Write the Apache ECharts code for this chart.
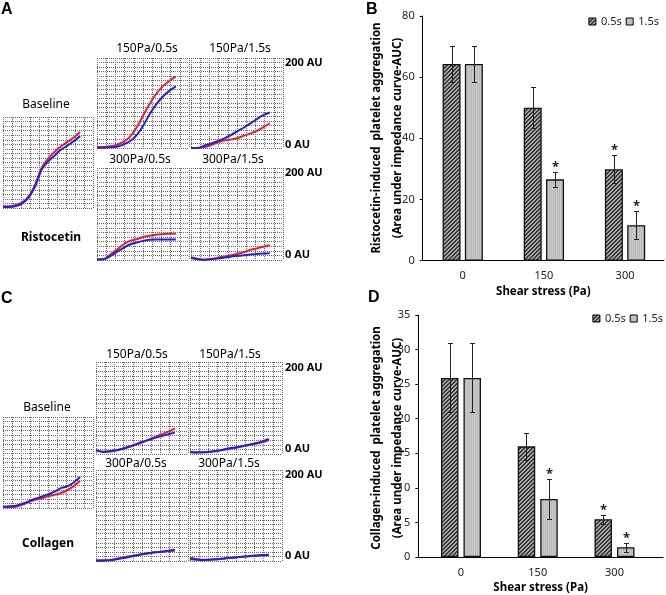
<!DOCTYPE html>
<html><head><meta charset="utf-8">
<script src="https://cdn.jsdelivr.net/npm/echarts@6/dist/echarts.min.js"></script>
<style>html,body{margin:0;padding:0;background:#fff}#c{width:666px;height:595px}</style>
</head><body><div id="c"></div>
<script>
// ---------- DATA ----------
// impedance curve sample times (s)
var timeSec = [0, 30, 60, 90, 120, 150, 180, 210, 240, 270, 300, 330, 360];
// Ristocetin (AU)
var ristoBaseRed   = [3.6, 3.6, 6.6, 12.4, 25.5, 51, 88, 108, 123, 135, 145, 155, 167];
var ristoBaseBlue  = [2.2, 2.2, 4.4, 10.2, 23.4, 47.5, 84, 102, 115, 128, 137, 147, 158];
var risto150s05Red  = [2.2, 2.2, 3.7, 6.7, 13.4, 24.6, 44.8, 71.6, 97.7, 120, 137, 149, 159];
var risto150s05Blue = [0.7, 0.7, 1.5, 3, 7.5, 15, 28, 49, 75, 97, 114, 127, 137];
var risto150s15Red  = [0, 0, 1.5, 6, 12, 16.4, 18.6, 21.6, 27, 32, 38, 46, 55];
var risto150s15Blue = [0, 0, 5, 9.7, 15, 21, 28, 37, 45, 54, 64, 73, 79];
var risto300s05Red  = [1.5, 1.5, 11.7, 22, 33.6, 41.6, 45, 50, 52.6, 54.8, 56, 57, 57];
var risto300s05Blue = [0.7, 1.5, 8, 17.5, 26, 33.6, 38, 41.6, 43.8, 44.5, 44.5, 44.5, 44.5];
var risto300s15Red  = [5.8, 2.2, 0.7, 2.2, 4.4, 7.3, 10.2, 13, 16.8, 22, 25, 29, 32];
var risto300s15Blue = [4.4, 2.2, 0.7, 1.5, 3, 5, 7.3, 8.8, 10.2, 11.7, 13, 13.9, 14.6];
// Collagen (AU)
var collBaseRed   = [1.5, 1.5, 2.9, 7.3, 13, 18, 21, 25.5, 29, 33, 39, 48, 60];
var collBaseBlue  = [2.9, 3.6, 5.1, 9.5, 14.6, 20.4, 24.8, 30, 35.8, 43.8, 47.4, 56, 68];
var coll150s05Red  = [9.4, 4.4, 5, 7.3, 11, 15, 20, 25, 31, 37, 43, 48.6, 55];
var coll150s05Blue = [7.3, 5, 5.8, 8, 11.6, 16, 21, 26, 30.5, 35, 39, 43, 47];
var coll150s15Red  = [3.6, 2.9, 3.6, 5, 6.5, 8.7, 11.6, 13.8, 16.7, 19.6, 22.5, 25.4, 29.7];
var coll150s15Blue = [4.4, 3.6, 3.6, 4.4, 6.5, 9.4, 12.3, 14.5, 17.4, 20.3, 23.2, 27.5, 33];
var coll300s05Red  = [1.5, 1.5, 2.2, 4.4, 7.3, 10.3, 12.5, 14.7, 16.9, 19, 20.5, 22, 22.7];
var coll300s05Blue = [0.7, 0.7, 1.5, 3.7, 5.9, 8.8, 11.7, 14.7, 16.9, 19, 20.5, 22.7, 25];
var coll300s15Red  = [8, 4.4, 2.9, 2.9, 3.7, 5.1, 6.6, 8, 9.5, 10.3, 11.7, 12.5, 13.2];
var coll300s15Blue = [4.4, 2.9, 2.2, 2.9, 3.7, 5.1, 6.6, 8, 9.5, 11, 11.7, 13.2, 14];

// Bar charts
var shearCategories = ['0', '150', '300'];
var seriesNames = ['0.5s', '1.5s'];
var ristoMean05 = [64.3, 50.0, 29.9];
var ristoMean15 = [64.3, 26.6, 11.6];
var ristoErr05  = [5.8, 6.7, 4.6];
var ristoErr15  = [5.9, 2.4, 4.5];
var ristoSig05  = [0, 0, 1];
var ristoSig15  = [0, 1, 1];
var collMean05 = [25.9, 16.0, 5.45];
var collMean15 = [25.9, 8.4, 1.42];
var collErr05  = [5.0, 1.95, 0.65];
var collErr15  = [5.0, 2.9, 0.65];
var collSig05  = [0, 0, 1];
var collSig15  = [0, 1, 1];

// ---------- STYLE / LAYOUT ----------
var FONT = '"Noto Sans", "Open Sans", sans-serif';
function hatchPattern() {
  var c = document.createElement('canvas'); c.width = 4; c.height = 4;
  var g = c.getContext('2d');
  g.fillStyle = '#a4a4a4'; g.fillRect(0, 0, 4, 4);
  g.fillStyle = '#3a3a3a';
  for (var i = 0; i < 4; i++) { g.fillRect(i, 3 - i, 1, 1); g.fillRect(i, (4 - i) % 4, 1, 1); }
  return c;
}
function lightPattern() {
  var c = document.createElement('canvas'); c.width = 2; c.height = 2;
  var g = c.getContext('2d');
  g.fillStyle = '#c9c9c9'; g.fillRect(0, 0, 2, 2);
  g.fillStyle = '#b9b9b9'; g.fillRect(1, 0, 1, 2);
  return c;
}
var fill05 = { image: hatchPattern(), repeat: 'repeat' };
var fill15 = { image: lightPattern(), repeat: 'repeat' };

var RED = '#ee1c25', BLUE = '#1f1fea';
var boxes = [
  { x: 3,   y: 117, w: 90, h: 91, red: ristoBaseRed,   blue: ristoBaseBlue },
  { x: 97,  y: 58,  w: 92, h: 90, red: risto150s05Red,  blue: risto150s05Blue },
  { x: 191, y: 58,  w: 92, h: 90, red: risto150s15Red,  blue: risto150s15Blue },
  { x: 97,  y: 168, w: 92, h: 92, red: risto300s05Red,  blue: risto300s05Blue },
  { x: 191, y: 168, w: 92, h: 92, red: risto300s15Red,  blue: risto300s15Blue },
  { x: 3,   y: 417, w: 90, h: 91, red: collBaseRed,    blue: collBaseBlue },
  { x: 96,  y: 362, w: 92, h: 92, red: coll150s05Red,   blue: coll150s05Blue },
  { x: 190, y: 362, w: 92, h: 92, red: coll150s15Red,   blue: coll150s15Blue },
  { x: 96,  y: 470, w: 92, h: 91, red: coll300s05Red,   blue: coll300s05Blue },
  { x: 190, y: 470, w: 92, h: 91, red: coll300s15Red,   blue: coll300s15Blue }
];

var grids = [], xAxes = [], yAxes = [], series = [];
var dotted = { color: '#666666', type: 'dotted', width: 1 };
boxes.forEach(function (b, i) {
  grids.push({ left: b.x, top: b.y, width: b.w, height: b.h });
  xAxes.push({ gridIndex: i, type: 'value', min: 0, max: 420, interval: 42,
    axisLine: { show: false }, axisTick: { show: false }, axisLabel: { show: false },
    splitLine: { show: true, lineStyle: dotted } });
  yAxes.push({ gridIndex: i, type: 'value', min: 0, max: 200, interval: 10,
    axisLine: { show: false }, axisTick: { show: false }, axisLabel: { show: false },
    splitLine: { show: true, lineStyle: dotted } });
  [[b.red, RED], [b.blue, BLUE]].forEach(function (p) {
    series.push({ type: 'line', xAxisIndex: i, yAxisIndex: i, showSymbol: false, smooth: 0.3,
      silent: true, lineStyle: { color: p[1], width: 2 }, itemStyle: { color: p[1] },
      data: timeSec.map(function (t, k) { return [t, p[0][k]]; }) });
  });
});

// Bar charts
var barCfg = [
  { grid: { left: 422.7, top: 16, width: 241.3, height: 244.7 }, xmin: -0.493, xmax: 2.48,
    ymax: 80, yint: 20, bw: 18, gap: 4.3,
    m05: ristoMean05, m15: ristoMean15, e05: ristoErr05, e15: ristoErr15, s05: ristoSig05, s15: ristoSig15 },
  { grid: { left: 418.3, top: 315, width: 244.7, height: 246.7 }, xmin: -0.556, xmax: 2.632,
    ymax: 35, yint: 5, bw: 17.5, gap: 5,
    m05: collMean05, m15: collMean15, e05: collErr05, e15: collErr15, s05: collSig05, s15: collSig15 }
];
barCfg.forEach(function (c, j) {
  var gi = boxes.length + j;
  grids.push(c.grid);
  xAxes.push({ gridIndex: gi, type: 'value', min: c.xmin, max: c.xmax,
    axisLine: { show: true, onZero: false, lineStyle: { color: '#000', width: 1 } },
    axisTick: { show: false }, splitLine: { show: false },
    axisLabel: { customValues: [0, 1, 2], formatter: function (v) { return shearCategories[Math.round(v)]; },
      margin: 10, fontSize: 11, color: '#222', fontFamily: FONT },
    name: 'Shear stress (Pa)', nameLocation: 'middle', nameGap: 25,
    nameTextStyle: { fontWeight: 'bold', fontSize: 11.5, color: '#000', fontFamily: FONT } });
  yAxes.push({ gridIndex: gi, type: 'value', min: 0, max: c.ymax, interval: c.yint,
    axisLine: { show: true, onZero: false, lineStyle: { color: '#000', width: 1 } },
    axisTick: { show: true, length: 3, lineStyle: { color: '#000' } },
    splitLine: { show: false },
    axisLabel: { fontSize: 11, color: '#222', margin: 8, fontFamily: FONT } });
  var gapPct = (c.gap / c.bw * 100).toFixed(1) + '%';
  [[c.m05, fill05, '0.5s'], [c.m15, fill15, '1.5s']].forEach(function (p) {
    series.push({ type: 'bar', name: p[2], xAxisIndex: gi, yAxisIndex: gi, barWidth: c.bw, barGap: gapPct,
      itemStyle: { color: p[1], borderColor: '#111', borderWidth: 1.3 },
      data: p[0].map(function (v, k) { return [k, v]; }) });
  });
  var off = (c.bw + c.gap) / 2;
  [[c.m05, c.e05, c.s05, -off], [c.m15, c.e15, c.s15, off]].forEach(function (p) {
    series.push({ type: 'custom', xAxisIndex: gi, yAxisIndex: gi, z: 5, silent: true,
      encode: { x: 0, y: 1 },
      data: p[0].map(function (v, k) { return [k, v, p[1][k], p[2][k]]; }),
      renderItem: function (params, api) {
        var i = api.value(0), m = api.value(1), e = api.value(2), s = api.value(3);
        var x = Math.round(api.coord([i, m])[0] + p[3]) + 0.5;
        var top = Math.round(api.coord([i, m + e])[1]) + 0.5;
        var bot = Math.round(api.coord([i, m - e])[1]) + 0.5;
        var st = { stroke: '#222', lineWidth: 1 };
        var ch = [
          { type: 'line', shape: { x1: x, y1: top, x2: x, y2: bot }, style: st },
          { type: 'line', shape: { x1: x - 2.5, y1: top, x2: x + 2.5, y2: top }, style: st },
          { type: 'line', shape: { x1: x - 2.5, y1: bot, x2: x + 2.5, y2: bot }, style: st }
        ];
        if (s) ch.push({ type: 'text', x: x, y: top - 5,
          style: { text: '*', fill: '#222', font: 'bold 13px ' + FONT, align: 'center', verticalAlign: 'middle' } });
        return { type: 'group', children: ch };
      } });
  });
});

// Texts
function txt(t, x, y, size, bold, align) {
  return { type: 'text', x: x, y: y, silent: true,
    style: { text: t, fill: '#000', font: (bold ? 'bold ' : '') + size + 'px ' + FONT,
      align: align || 'center', verticalAlign: 'middle' } };
}
var LF = 'bold 16px "Liberation Sans", Arial';
var graphics = [
  { type: 'text', x: 1, y: 2, style: { text: 'A', fill: '#000', font: LF, align: 'left', verticalAlign: 'top' } },
  { type: 'text', x: 366, y: 2, style: { text: 'B', fill: '#000', font: LF, align: 'left', verticalAlign: 'top' } },
  { type: 'text', x: 1, y: 291, style: { text: 'C', fill: '#000', font: LF, align: 'left', verticalAlign: 'top' } },
  { type: 'text', x: 368, y: 290, style: { text: 'D', fill: '#000', font: LF, align: 'left', verticalAlign: 'top' } },
  txt('Baseline', 46, 105, 12), txt('Ristocetin', 51, 238, 12, true),
  txt('150Pa/0.5s', 147, 49, 12), txt('150Pa/1.5s', 240, 49, 12),
  txt('300Pa/0.5s', 140, 160, 12), txt('300Pa/1.5s', 233, 160, 12),
  txt('200 AU', 285, 63, 11, true, 'left'), txt('0 AU', 285, 145, 11, true, 'left'),
  txt('200 AU', 285, 173, 11, true, 'left'), txt('0 AU', 285, 255, 11, true, 'left'),
  txt('Baseline', 47, 408, 12), txt('Collagen', 48, 544, 12, true),
  txt('150Pa/0.5s', 137, 355, 12), txt('150Pa/1.5s', 230, 355, 12),
  txt('300Pa/0.5s', 136, 464, 12), txt('300Pa/1.5s', 229, 464, 12),
  txt('200 AU', 285, 368, 11, true, 'left'), txt('0 AU', 285, 449, 11, true, 'left'),
  txt('200 AU', 285, 475, 11, true, 'left'), txt('0 AU', 285, 556, 11, true, 'left'),
  { type: 'text', x: 387.5, y: 138, rotation: Math.PI / 2, silent: true,
    style: { text: 'Ristocetin-induced  platelet aggregation\n(Area under impedance curve-AUC)', fill: '#000',
      font: 'bold 11.5px ' + FONT, lineHeight: 21, align: 'center', verticalAlign: 'middle' } },
  { type: 'text', x: 387.5, y: 438, rotation: Math.PI / 2, silent: true,
    style: { text: 'Collagen-induced  platelet aggregation\n(Area under impedance curve-AUC)', fill: '#000',
      font: 'bold 11.5px ' + FONT, lineHeight: 21, align: 'center', verticalAlign: 'middle' } }
];

function legendAt(right, top) {
  return { orient: 'horizontal', right: right, top: top, data: seriesNames,
    itemWidth: 7, itemHeight: 7, itemGap: 4, icon: 'rect',
    itemStyle: { borderColor: '#000', borderWidth: 1 },
    textStyle: { fontSize: 11, color: '#222', fontFamily: FONT } };
}
var option = {
  animation: false,
  backgroundColor: '#fff',
  grid: grids, xAxis: xAxes, yAxis: yAxes, series: series,
  legend: [legendAt(2, 11), legendAt(-2, 308)],
  graphic: graphics
};
var chart = echarts.init(document.getElementById('c'));
chart.setOption(option);
</script></body></html>
